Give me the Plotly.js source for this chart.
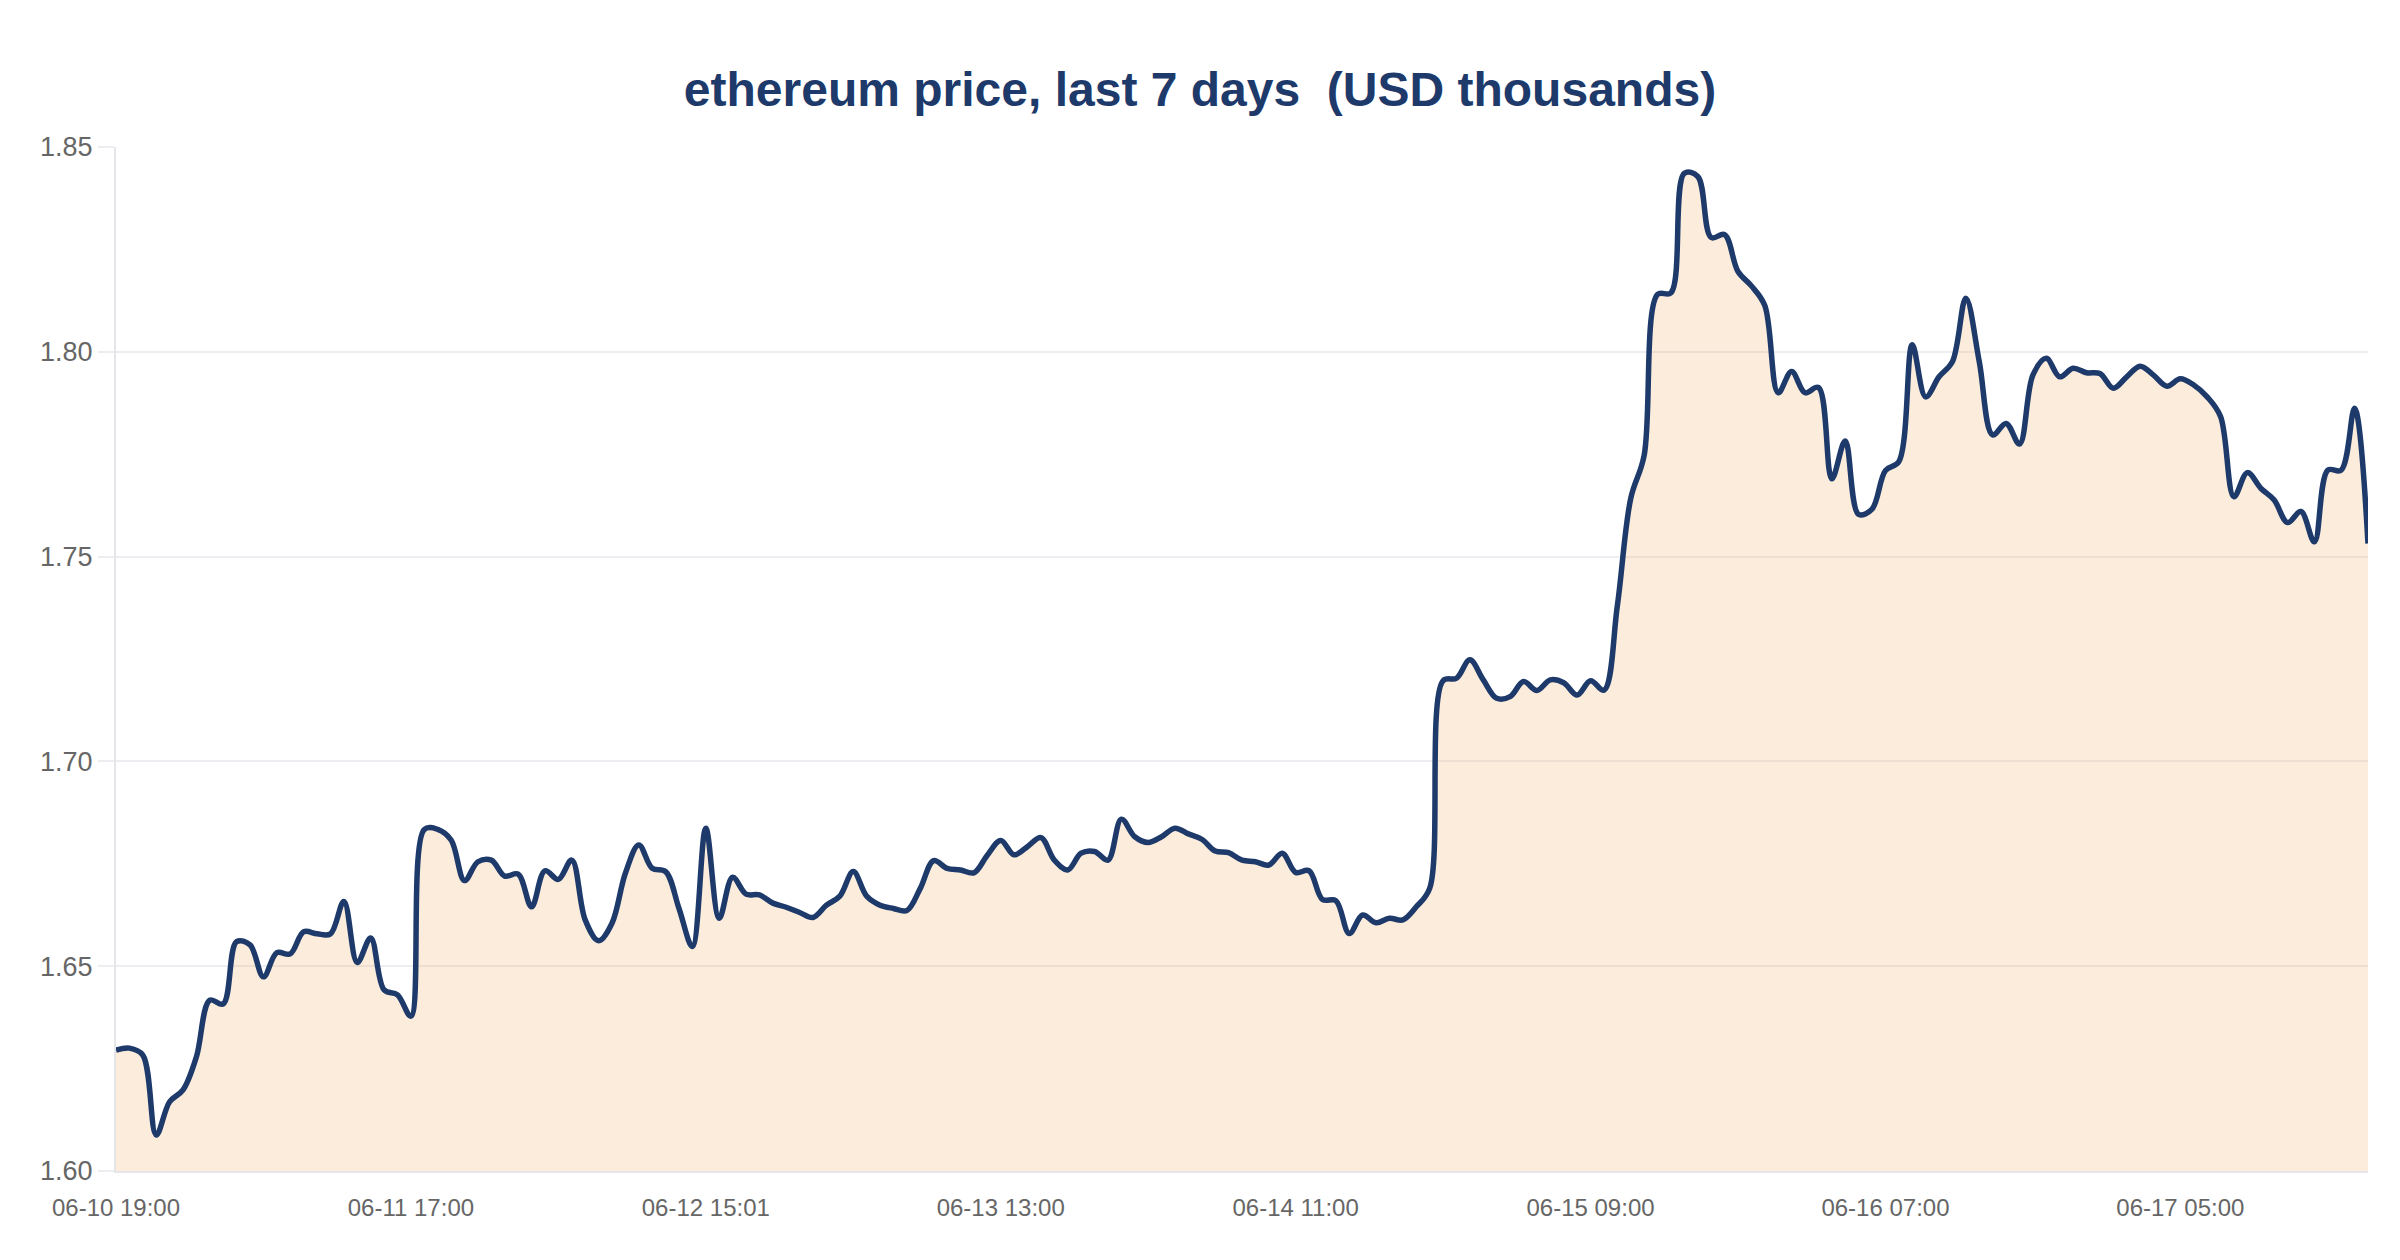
<!DOCTYPE html>
<html>
<head>
<meta charset="utf-8">
<script src="https://cdn.plot.ly/plotly-3.0.1.min.js"></script>
<style>html,body{margin:0;padding:0;background:#fff;}#chart{width:2400px;height:1260px;}</style>
</head>
<body>
<div id="chart"></div>
<script>
// Hourly ETH price (USD thousands), starting 06-10 19:00
const prices = [
  1.6295, 1.6300, 1.6283, 1.6088, 1.6169, 1.6198, 1.6279, 1.6417, 1.6408, 1.6560,
  1.6552, 1.6474, 1.6533, 1.6530, 1.6584, 1.6579, 1.6579, 1.6658, 1.6509, 1.6569,
  1.6442, 1.6430, 1.6378, 1.6834, 1.6834, 1.6808, 1.6709, 1.6755, 1.6759, 1.6720,
  1.6725, 1.6645, 1.6733, 1.6712, 1.6759, 1.6613, 1.6562, 1.6605, 1.6727, 1.6796,
  1.6739, 1.6731, 1.6641, 1.6548, 1.6837, 1.6617, 1.6717, 1.6676, 1.6674, 1.6654,
  1.6644, 1.6631, 1.6619, 1.6649, 1.6671, 1.6731, 1.6671, 1.6649, 1.6641, 1.6636,
  1.6690, 1.6758, 1.6739, 1.6735, 1.6728, 1.6771, 1.6807, 1.6772, 1.6792, 1.6814,
  1.6759, 1.6735, 1.6776, 1.6780, 1.6759, 1.6859, 1.6816, 1.6802, 1.6816, 1.6837,
  1.6823, 1.6810, 1.6781, 1.6777, 1.6759, 1.6755, 1.6747, 1.6776, 1.6729, 1.6733,
  1.6663, 1.6660, 1.6580, 1.6625, 1.6606, 1.6617, 1.6613, 1.6645, 1.6690, 1.7197,
  1.7203, 1.7248, 1.7199, 1.7154, 1.7158, 1.7195, 1.7173, 1.7199, 1.7192, 1.7162,
  1.7197, 1.7174, 1.7380, 1.7642, 1.7747, 1.8140, 1.8144, 1.8436, 1.8428, 1.8279,
  1.8286, 1.8196, 1.8161, 1.8113, 1.7900, 1.7952, 1.7900, 1.7913, 1.7690, 1.7782,
  1.7603, 1.7616, 1.7710, 1.7732, 1.8017, 1.7890, 1.7939, 1.7976, 1.8131, 1.7976,
  1.7797, 1.7825, 1.7775, 1.7943, 1.7984, 1.7939, 1.7960, 1.7949, 1.7947, 1.7911,
  1.7939, 1.7965, 1.7943, 1.7916, 1.7934, 1.7919, 1.7890, 1.7842, 1.7646, 1.7705,
  1.7667, 1.7638, 1.7583, 1.7610, 1.7536, 1.7711, 1.7711, 1.7862, 1.7532
];
const tickLabels = ["06-10 19:00", "06-11 17:00", "06-12 15:01", "06-13 13:00",
                    "06-14 11:00", "06-15 09:00", "06-16 07:00", "06-17 05:00"];
const hoursPerTick = 22;

const xIdx = prices.map((_, i) => i);
const tickVals = tickLabels.map((_, k) => k * hoursPerTick);

const font = "Liberation Sans, Arial, sans-serif";

Plotly.newPlot("chart", [{
  x: xIdx,
  y: prices,
  type: "scatter",
  mode: "lines",
  line: {color: "#1d3a6b", width: 5.5, shape: "spline", smoothing: 1},
  fill: "tozeroy",
  fillcolor: "rgba(242,170,90,0.22)",
  hoverinfo: "skip"
}], {
  width: 2400, height: 1260,
  paper_bgcolor: "#ffffff", plot_bgcolor: "#ffffff",
  margin: {l: 116, r: 32, t: 147, b: 89, pad: 0},
  showlegend: false,
  title: {
    text: "<b>ethereum price, last 7 days  (USD thousands)</b>",
    font: {family: font, size: 48, color: "#1d3a6b"},
    x: 0.5, xref: "container", xanchor: "center",
    y: 1 - 89 / 1260, yref: "container", yanchor: "middle"
  },
  xaxis: {
    range: [0, prices.length - 1],
    tickmode: "array", tickvals: tickVals, ticktext: tickLabels,
    showgrid: false, zeroline: false,
    showline: true, linecolor: "#e6e6ea", linewidth: 2,
    ticks: "outside", ticklen: 14, tickcolor: "rgba(0,0,0,0)",
    tickfont: {family: font, size: 24, color: "#666666"}
  },
  yaxis: {
    range: [1.60, 1.85],
    tickmode: "array", tickvals: [1.60, 1.65, 1.70, 1.75, 1.80, 1.85],
    tickformat: ".2f",
    showgrid: true, gridcolor: "#eceef2", gridwidth: 2,
    zeroline: false,
    showline: true, linecolor: "#e6e6ea", linewidth: 2,
    ticks: "outside", ticklen: 16, tickwidth: 2, tickcolor: "#eceef2",
    tickfont: {family: font, size: 27, color: "#666666"}
  }
}, {displayModeBar: false, staticPlot: true});
</script>
</body>
</html>
